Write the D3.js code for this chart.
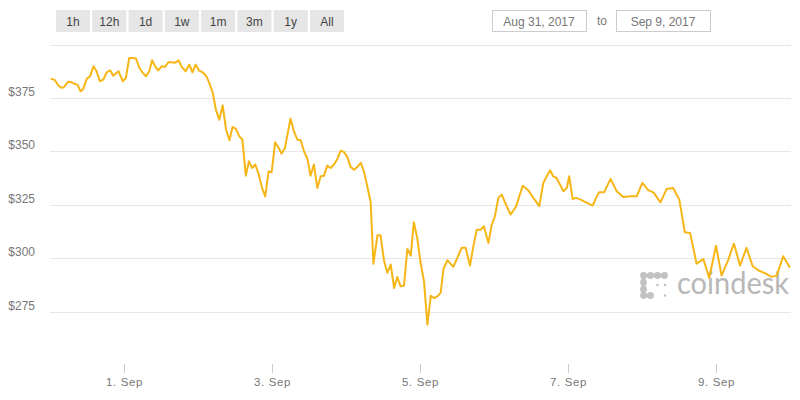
<!DOCTYPE html>
<html>
<head>
<meta charset="utf-8">
<script src="https://cdn.jsdelivr.net/npm/d3@7"></script>
<style>
  html, body { margin: 0; padding: 0; background: #fff; }
  svg { display: block; font-family: "Liberation Sans", Arial, sans-serif; }
</style>
</head>
<body>
<svg id="chart" width="800" height="400"></svg>
<script>
// ---- data ----
const startDate = Date.UTC(2017, 7, 31); // Aug 31, 2017 00:00 UTC
const endDate = Date.UTC(2017, 8, 10);
const hours = [0.5,1.6,2.7,3.8,4.5,5.9,7.0,8.1,8.9,9.9,10.8,11.9,13.0,14.1,15.1,16.2,17.3,18.4,19.5,20.5,22.2,23.6,24.6,25.7,26.8,27.9,29.0,30.1,31.1,32.2,33.1,34.1,35.1,36.2,37.3,38.4,39.5,40.5,41.7,42.7,44.0,45.2,46.2,47.2,48.3,49.5,50.6,51.6,52.8,53.8,54.9,56.0,57.1,58.2,59.2,60.3,61.4,62.4,63.5,64.5,65.6,66.6,67.7,68.8,69.8,70.9,71.9,73.0,74.0,75.1,76.2,78.0,79.1,80.2,81.3,82.4,83.5,84.5,85.6,86.7,87.8,88.9,89.9,91.0,92.1,93.2,94.3,95.3,96.4,97.5,98.6,99.7,100.8,101.8,102.9,104.0,104.9,106.2,107.2,108.3,109.4,110.5,111.6,112.6,113.7,114.8,115.9,117.0,118.0,119.1,120.2,121.3,122.4,123.5,124.5,125.6,126.7,127.6,128.9,129.9,130.8,132.1,133.5,134.8,136.2,137.3,138.4,139.7,140.7,142.2,143.2,144.3,145.4,146.5,148.1,149.4,151.1,152.2,153.3,155.1,157.0,158.7,160.0,161.1,162.2,163.2,164.3,165.4,166.5,167.6,168.4,169.5,170.6,172.1,173.8,176.0,177.1,178.1,179.7,181.8,183.8,185.9,188.1,190.3,192.1,194.0,195.7,198.0,200.0,202.1,204.1,205.9,207.6,209.7,211.9,213.8,216.0,217.8,220.0,221.8,223.8,225.9,227.9,229.7,232.2,234.0,235.7,237.8,239.8];
const prices = [383.9,383.3,380.8,379.7,380.0,382.6,382.3,381.5,381.2,378.1,379.2,383.9,385.1,389.8,387.5,382.8,383.6,387.0,387.9,385.4,387.5,382.8,384.3,393.7,393.7,393.4,389.0,386.7,385.1,387.5,392.6,389.8,387.9,389.8,389.5,391.7,391.7,391.4,392.6,389.5,387.5,390.6,387.0,390.6,387.9,387.0,385.4,382.3,377.3,369.5,364.8,371.5,360.2,355.2,361.4,360.5,357.0,355.5,338.6,345.3,342.2,343.8,339.1,332.8,328.9,340.6,340.2,354.2,352.0,348.9,351.6,365.3,359.4,355.5,355.2,350.0,346.4,338.6,343.8,332.8,338.3,338.6,343.3,342.2,343.8,346.4,350.3,349.7,347.4,342.7,341.4,342.7,344.6,340.6,333.6,326.1,297.4,310.7,310.7,299.0,293.1,297.0,286.0,291.2,286.8,287.1,304.3,301.2,316.8,309.4,297.7,289.1,268.9,282.4,281.3,282.1,283.7,294.9,299.0,297.4,295.9,300.1,304.8,304.8,296.5,305.5,313.3,313.3,314.9,307.1,315.2,319.6,328.2,329.7,324.3,320.4,324.0,328.9,333.9,331.8,327.7,324.3,335.2,338.3,341.1,338.3,337.5,334.4,331.3,332.8,338.3,327.7,328.2,327.4,326.1,324.6,328.2,330.8,330.8,337.1,331.3,328.6,328.9,328.9,335.2,331.8,330.8,326.1,332.4,332.8,327.4,312.1,311.8,297.4,299.6,290.7,305.8,291.8,299.3,306.8,296.5,304.8,296.2,294.3,292.7,291.2,291.8,300.9,295.9];
const gridValues = [275, 300, 325, 350, 375, 400];
const yLabelValues = [275, 300, 325, 350, 375];
const xTickDays = [1, 3, 5, 7, 9]; // September
const rangeButtons = ["1h", "12h", "1d", "1w", "1m", "3m", "1y", "All"];
const fromLabel = "Aug 31, 2017";
const toLabel = "Sep 9, 2017";

// ---- scales ----
const x = d3.scaleUtc().domain([new Date(startDate), new Date(endDate)]).range([50, 790]);
const y = d3.scaleLinear().domain([275, 400]).range([311.5, 44.5]);

const svg = d3.select("#chart");

// range buttons
const bx = d3.scaleBand().domain(rangeButtons).range([56, 344]).paddingInner(0.06);
const btn = svg.append("g").selectAll("g").data(rangeButtons).join("g")
  .attr("transform", d => `translate(${bx(d)},10)`);
btn.append("rect").attr("width", bx.bandwidth()).attr("height", 22).attr("fill", "#e6e6e6");
btn.append("text").attr("x", bx.bandwidth() / 2).attr("y", 15.5).attr("text-anchor", "middle")
  .attr("font-size", 12).attr("fill", "#444").text(d => d);

// date inputs
const inputs = svg.append("g");
[[492, fromLabel], [616, toLabel]].forEach(([ix, label]) => {
  inputs.append("rect").attr("x", ix + 0.5).attr("y", 10.5).attr("width", 94).attr("height", 21)
    .attr("fill", "#fff").attr("stroke", "#cccccc");
  inputs.append("text").attr("x", ix + 47).attr("y", 25.5).attr("text-anchor", "middle")
    .attr("font-size", 12).attr("fill", "#777").text(label);
});
inputs.append("text").attr("x", 602).attr("y", 25).attr("text-anchor", "middle")
  .attr("font-size", 12).attr("fill", "#777").text("to");

// grid lines
svg.append("g").selectAll("line").data(gridValues).join("line")
  .attr("x1", 50).attr("x2", 791)
  .attr("y1", d => Math.round(y(d)) + 0.5).attr("y2", d => Math.round(y(d)) + 0.5)
  .attr("stroke", "#e6e6e6").attr("stroke-width", 1);

// y labels
svg.append("g").selectAll("text").data(yLabelValues).join("text")
  .attr("x", 35).attr("y", d => y(d) - 2).attr("text-anchor", "end")
  .attr("font-size", 12).attr("fill", "#777").text(d => "$" + d);

// x axis ticks
const xTicks = xTickDays.map(d => new Date(Date.UTC(2017, 8, d)));
const xAxis = d3.axisBottom(x).tickValues(xTicks).tickFormat(d3.utcFormat("%-d. %b")).tickSize(9).tickPadding(5);
const gx = svg.append("g").attr("transform", "translate(0,364)").call(xAxis);
gx.select(".domain").remove();
gx.selectAll(".tick line").attr("stroke", "#ccc");
gx.selectAll(".tick text").attr("fill", "#777").attr("font-size", 11.5)
  .attr("font-family", "'Liberation Sans', Arial, sans-serif").attr("letter-spacing", "0.6px");

// coindesk watermark
const logo = svg.append("g").attr("fill", "#c2c2c2");
const bigDots = [[643.5,275.5],[650.5,275.5],[657.5,275.5],[664.5,275.5],[643.5,282.5],[643.5,289.5],[643.5,295.5],[650.5,295.5]];
logo.append("rect").attr("x", 643).attr("y", 273.5).attr("width", 22).attr("height", 4);
logo.append("rect").attr("x", 641.5).attr("y", 275).attr("width", 4).attr("height", 21);
logo.append("rect").attr("x", 643).attr("y", 293.5).attr("width", 8).attr("height", 4);
logo.selectAll("circle.big").data(bigDots).join("circle").attr("class", "big")
  .attr("cx", d => d[0]).attr("cy", d => d[1]).attr("r", 3.4);
logo.selectAll("circle.small").data([[657.5,285],[665,285],[665,295.5]]).join("circle").attr("class", "small")
  .attr("cx", d => d[0]).attr("cy", d => d[1]).attr("r", 1.3);
logo.append("text").attr("x", 677).attr("y", 294).attr("font-size", 30)
  .attr("font-family", "Lato, 'Open Sans', sans-serif").attr("textLength", 112)
  .attr("lengthAdjust", "spacingAndGlyphs").attr("fill", "#b8b8b8").text("coindesk");

// price line
const data = hours.map((h, i) => ({ t: new Date(startDate + h * 3600 * 1000), v: prices[i] }));
const line = d3.line().x(d => x(d.t)).y(d => y(d.v));
svg.append("path").datum(data).attr("d", line)
  .attr("fill", "none").attr("stroke", "#f7b617").attr("stroke-width", 2)
  .attr("stroke-linejoin", "round").attr("stroke-linecap", "round");
</script>
</body>
</html>
